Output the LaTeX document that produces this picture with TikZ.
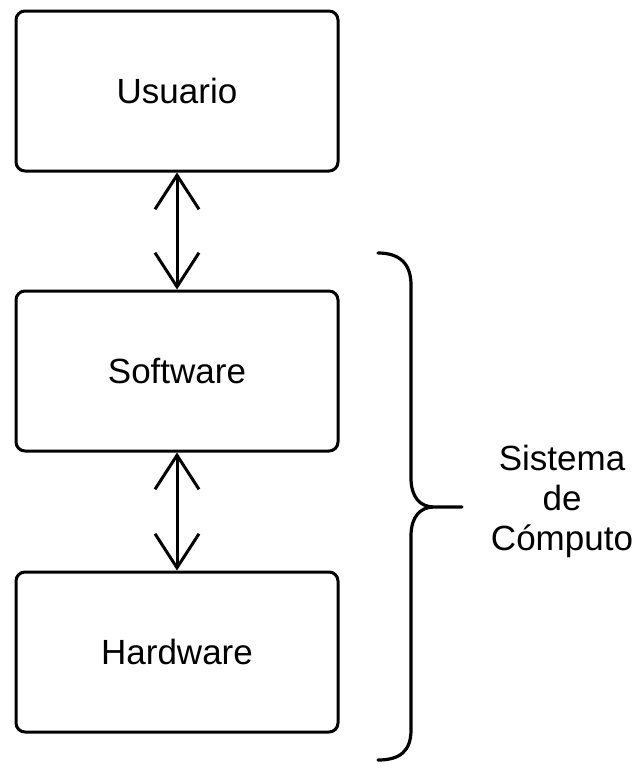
\documentclass[tikz,border=0pt]{standalone}
\usepackage{fontspec}
\setmainfont{Liberation Sans}
\usetikzlibrary{arrows.meta}
\begin{document}
\begin{tikzpicture}[x=1pt,y=-1pt,
  blockbox/.style={draw=black, line width=3pt, rounded corners=9pt, fill=white,
    minimum width=322pt, minimum height=160pt, inner sep=0pt,
    font=\fontsize{35}{40}\selectfont},
  biarrow/.style={line width=3pt, {Straight Barb[length=34pt,width=44pt,line width=3pt]}-{Straight Barb[length=34pt,width=44pt,line width=3pt]}},
  bracestyle/.style={draw=black, line width=3.2pt, line cap=round, line join=round}]
\useasboundingbox (0,0) rectangle (637,771);
\node[blockbox] (u) at (177,91) {Usuario};
\node[blockbox] (s) at (177,371) {Software};
\node[blockbox] (h) at (177,652) {Hardware};
\draw[biarrow] (u.south) -- (s.north);
\draw[biarrow] (s.south) -- (h.north);
\draw[bracestyle] (378,253) .. controls (400,253) and (411,264) .. (411,285)
  -- (411,478) .. controls (411,497) and (420,507) .. (434,507) -- (462,507)
  (434,507) .. controls (420,507) and (411,517) .. (411,536)
  -- (411,730) .. controls (411,751) and (400,760) .. (378,760);
\node[align=center, font=\fontsize{35}{40}\selectfont, inner sep=0pt] (t) at (562,501) {Sistema\\de\\Cómputo};
\end{tikzpicture}
\end{document}
